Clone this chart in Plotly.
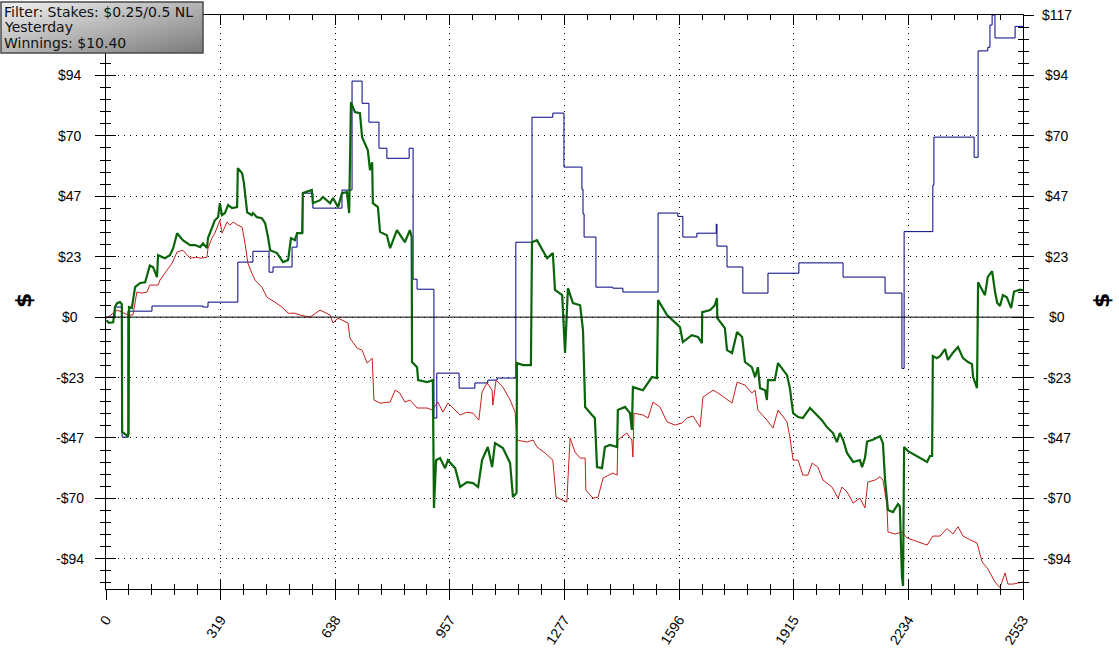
import base64
import plotly.graph_objects as go

# hand number, winnings ($)
green_pts = [(1,-1.2),(8,-2.2),(20,-2.0),(25,3.9),(31,5.4),(39,5.8),(44,5.0),(45,-44.5),(55,-45.5),(61,-46.5),(63,-45.0),(64,3.9),(72,3.5),(81,11.6),(95,13.2),(109,13.5),(122,20.0),(131,19.4),(142,15.5),(145,24.0),(164,22.8),(178,24.0),(187,26.7),(198,32.5),(214,29.8),(234,27.9),(248,27.9),(262,27.1),(270,28.6),(281,26.7),(284,30.6),(295,34.5),(303,37.5),(312,38.7),(317,44.1),(323,39.5),(331,40.3),(340,43.4),(351,42.2),(365,42.6),(367,57.7),(379,55.7),(384,51.9),(393,40.6),(406,39.5),(409,40.3),(420,38.7),(434,38.3),(443,36.4),(451,31.0),(457,25.9),(476,24.8),(493,21.3),(507,22.1),(515,30.6),(526,29.8),(532,32.5),(546,32.5),(548,48.0),(573,49.2),(576,44.1),(596,45.3),(604,46.5),(624,44.1),(632,46.1),(646,42.6),(657,48.0),(671,48.4),(677,40.3),(682,83.2),(693,79.4),(707,79.0),(713,69.7),(729,64.6),(735,56.9),(741,60.0),(743,44.1),(757,42.6),(763,33.0),(782,31.7),(791,26.7),(810,33.7),(824,31.0),(832,29.0),(846,33.7),(851,31.0),(852,-17.4),(866,-19.4),(869,-24.4),(894,-25.2),(910,-24.4),(913,-73.9),(919,-55.4),(930,-54.6),(944,-58.5),(952,-55.4),(972,-58.5),(986,-65.8),(1005,-63.9),(1022,-64.3),(1036,-65.8),(1047,-55.4),(1063,-50.3),(1075,-58.1),(1083,-48.8),(1105,-50.7),(1125,-56.5),(1133,-69.7),(1143,-68.1),(1144,-17.8),(1161,-18.6),(1183,-18.6),(1186,29.0),(1200,29.8),(1228,22.8),(1244,24.8),(1250,10.5),(1270,8.5),(1278,-13.9),(1286,11.2),(1300,5.4),(1320,4.6),(1328,-5.0),(1334,-34.8),(1353,-37.9),(1361,-39.1),(1367,-58.1),(1381,-58.5),(1389,-50.3),(1403,-49.5),(1423,-50.3),(1425,-36.0),(1445,-34.8),(1459,-37.2),(1464,-43.7),(1467,-27.1),(1495,-28.3),(1520,-23.2),(1534,-23.6),(1537,6.6),(1562,0.8),(1584,-1.9),(1598,-3.9),(1606,-9.7),(1631,-7.0),(1648,-7.7),(1659,-10.1),(1660,1.9),(1682,2.7),(1695,4.6),(1701,7.4),(1702,-0.4),(1723,-4.3),(1729,-12.8),(1743,-13.9),(1757,-5.8),(1771,-7.7),(1779,-17.4),(1798,-19.4),(1807,-23.2),(1815,-19.4),(1821,-27.5),(1835,-28.3),(1840,-32.1),(1843,-24.4),(1862,-24.4),(1871,-17.8),(1896,-22.5),(1904,-27.5),(1913,-37.2),(1927,-38.7),(1940,-39.1),(1960,-35.2),(1979,-37.9),(1993,-39.9),(2007,-42.6),(2024,-44.9),(2035,-48.4),(2043,-44.9),(2052,-47.6),(2063,-52.6),(2080,-56.1),(2099,-55.4),(2105,-58.1),(2113,-54.6),(2119,-48.2),(2135,-47.5),(2155,-46.1),(2163,-48.8),(2169,-63.1),(2177,-74.7),(2191,-75.5),(2205,-72.4),(2210,-73.2),(2216,-100.5),(2219,-104.1),(2222,-50.3),(2233,-51.9),(2247,-53.0),(2266,-54.6),(2286,-56.1),(2294,-53.8),(2300,-53.8),(2302,-15.1),(2313,-15.9),(2322,-15.1),(2336,-12.4),(2344,-16.6),(2358,-13.8),(2372,-11.6),(2386,-15.9),(2400,-17.4),(2411,-18.2),(2414,-23.1),(2425,-27.5),(2428,13.5),(2439,10.6),(2447,8.5),(2455,15.6),(2467,17.8),(2475,9.9),(2481,5.6),(2489,4.3),(2497,8.5),(2508,7.7),(2520,3.5),(2528,9.9),(2545,10.6),(2553,10.4)]

red_pts = [(1,-0.5),(31,2.7),(45,1.9),(61,0.8),(75,0.8),(86,9.7),(100,9.3),(114,9.7),(122,12.4),(145,12.4),(150,14.3),(173,19.0),(184,20.9),(198,25.2),(214,25.9),(234,22.8),(253,23.2),(262,22.8),(281,23.2),(284,26.7),(295,30.6),(303,32.5),(317,37.5),(323,32.5),(337,36.8),(345,35.6),(354,36.8),(367,35.6),(379,34.8),(387,28.6),(395,20.9),(406,17.0),(415,14.3),(434,11.6),(448,7.7),(470,5.8),(490,3.9),(507,1.5),(526,1.5),(540,0.8),(568,0.0),(596,2.7),(624,0.8),(632,-2.3),(646,-0.4),(674,-2.3),(679,-8.1),(699,-12.0),(713,-12.8),(727,-17.8),(741,-15.9),(746,-32.1),(763,-33.3),(791,-32.9),(805,-28.3),(818,-29.4),(832,-32.9),(846,-32.1),(866,-35.2),(894,-35.2),(908,-36.0),(924,-32.9),(938,-36.8),(952,-33.3),(966,-35.2),(986,-37.9),(1005,-36.8),(1022,-37.2),(1038,-39.9),(1047,-29.0),(1061,-25.5),(1075,-28.3),(1077,-34.1),(1086,-24.4),(1105,-27.1),(1125,-32.1),(1139,-36.8),(1144,-47.6),(1172,-48.4),(1189,-47.6),(1200,-50.3),(1222,-52.6),(1244,-55.4),(1253,-69.7),(1270,-70.8),(1283,-71.6),(1286,-63.1),(1292,-46.8),(1306,-52.3),(1320,-54.6),(1334,-54.6),(1336,-67.0),(1356,-70.1),(1370,-69.7),(1384,-62.3),(1411,-60.4),(1423,-61.2),(1425,-47.6),(1450,-44.9),(1464,-47.6),(1467,-54.2),(1470,-37.2),(1495,-37.9),(1509,-39.1),(1523,-32.9),(1542,-34.8),(1562,-40.6),(1584,-41.8),(1604,-41.0),(1617,-39.1),(1634,-38.3),(1654,-42.6),(1662,-31.0),(1690,-28.3),(1704,-29.4),(1729,-32.1),(1743,-33.3),(1757,-25.2),(1779,-26.3),(1798,-29.4),(1807,-28.3),(1815,-36.0),(1840,-39.9),(1857,-43.0),(1871,-36.0),(1896,-40.6),(1904,-46.5),(1913,-55.4),(1927,-55.4),(1940,-61.2),(1954,-61.2),(1966,-56.5),(1982,-58.1),(1996,-63.1),(2021,-65.8),(2038,-70.1),(2049,-65.8),(2063,-67.7),(2080,-72.0),(2099,-70.1),(2113,-73.9),(2121,-63.9),(2141,-63.1),(2155,-61.8),(2163,-63.1),(2174,-72.4),(2177,-83.2),(2197,-84.0),(2216,-83.2),(2230,-85.5),(2258,-86.9),(2286,-88.3),(2302,-84.8),(2322,-84.8),(2341,-81.9),(2358,-84.0),(2372,-81.2),(2386,-84.8),(2405,-86.2),(2425,-87.5),(2439,-94.8),(2455,-97.5),(2475,-102.6),(2489,-104.8),(2503,-99.1),(2511,-103.4),(2525,-103.4),(2550,-102.6),(2553,-102.6)]

# blue is a step line: value holds from this hand until the next one
blue_pts = [(0,0.0),(25,3.9),(45,-46.5),(61,2.3),(128,4.3),(270,3.9),(284,5.8),(367,21.3),(409,25.5),(454,17.4),(465,19.4),(518,27.1),(532,32.5),(548,48.0),(576,42.2),(657,49.2),(685,91.4),(713,82.8),(732,75.5),(760,65.4),(782,61.5),(844,65.4),(855,14.7),(866,10.8),(913,-39.1),(921,-21.7),(983,-27.5),(1027,-25.5),(1063,-24.4),(1089,-23.6),(1141,29.0),(1186,77.4),(1244,79.0),(1275,58.1),(1325,49.5),(1328,40.0),(1331,31.0),(1364,11.6),(1411,11.2),(1439,9.7),(1537,40.3),(1592,39.0),(1606,31.0),(1645,32.5),(1699,36.0),(1701,27.5),(1729,19.4),(1773,9.3),(1843,17.0),(1929,21.0),(2052,15.5),(2169,9.3),(2216,-19.9),(2222,33.1),(2302,51.1),(2305,69.7),(2417,61.9),(2428,103.1),(2455,104.5),(2461,113.1),(2467,117.0),(2475,108.1),(2531,112.6),(2553,112.6)]

x_labels = ["0", "319", "638", "957", "1277", "1596", "1915", "2234", "2553"]
y_labels = ["$117", "$94", "$70", "$47", "$23", "$0", "-$23", "-$47", "-$70", "-$94"]
info_lines = ["Filter: Stakes: $0.25/0.5 NL", "Yesterday", "Winnings: $10.40"]

n_hands = 2553
x_step = n_hands / 8
y_step = 117 / 5
x_ticks = [i * x_step for i in range(len(x_labels))]
y_ticks = [117 - i * y_step for i in range(len(y_labels))]
y_range = [-105.3, 117]

fig = go.Figure()
for pts, color, width, shape in [(blue_pts, "#000080", 1, "hv"),
                                 (red_pts, "#c81e1e", 1, "linear"),
                                 (green_pts, "#0a640a", 2.2, "linear")]:
    hx, hy = zip(*pts)
    fig.add_trace(go.Scatter(x=hx, y=hy, mode="lines", line=dict(color=color, width=width, shape=shape),
                             showlegend=False, hoverinfo="skip"))

# empty traces so the extra tick-only axes get drawn
for xa, ya in [("x", "y2"), ("x", "y3"), ("x", "y4"), ("x2", "y"), ("x3", "y")]:
    fig.add_trace(go.Scatter(x=[0], y=[0], xaxis=xa, yaxis=ya, mode="markers",
                             marker=dict(opacity=0), showlegend=False, hoverinfo="skip"))

tick_font = dict(family="Liberation Sans, Arial", size=14, color="black")
no_grid = dict(showgrid=False, gridcolor="rgba(0,0,0,0)", gridwidth=0)
xminor = dict(dtick=x_step / 5, tick0=0, ticklen=5, tickcolor="black", **no_grid)
yminor = dict(dtick=y_step / 5, tick0=0, ticklen=5, tickcolor="black", **no_grid)

xcommon = dict(range=[0, n_hands], tickmode="array", tickvals=x_ticks, ticklen=10,
               tickcolor="black", zeroline=False, automargin=False)
ycommon = dict(range=y_range, tickmode="array", tickvals=y_ticks, ticklen=10,
               tickcolor="black", zeroline=False, automargin=False, showticklabels=False)

fig.update_layout(
    width=1119, height=649, autosize=False,
    margin=dict(l=106, r=96, t=15, b=60),
    paper_bgcolor="white", plot_bgcolor="white",
    showlegend=False,
    xaxis=dict(**xcommon, ticks="outside", ticktext=x_labels, tickangle=-57,
               tickfont=dict(family="Liberation Sans, Arial", size=14, color="black"),
               ticklabelstandoff=6,
               showline=True, linecolor="black", linewidth=1,
               showgrid=True, gridcolor="black", gridwidth=1, griddash="1px,5px",
               minor=dict(**xminor, ticks="outside")),
    xaxis2=dict(**xcommon, overlaying="x", side="bottom", anchor="y", ticks="inside",
                showticklabels=False, showline=False, **no_grid,
                minor=dict(**xminor, ticks="inside")),
    xaxis3=dict(**xcommon, overlaying="x", side="top", anchor="y", ticks="inside",
                showticklabels=False, showline=True, linecolor="black", linewidth=1, **no_grid,
                minor=dict(**xminor, ticks="inside")),
    yaxis=dict(**ycommon, ticks="outside",
               showline=True, linecolor="black", linewidth=1,
               showgrid=True, gridcolor="black", gridwidth=1, griddash="1px,5px",
               minor=dict(**yminor, ticks="outside")),
    yaxis2=dict(**ycommon, overlaying="y", side="right", anchor="x", ticks="outside",
                showline=True, linecolor="black", linewidth=1, **no_grid,
                minor=dict(**yminor, ticks="outside")),
    yaxis3=dict(**ycommon, overlaying="y", side="left", anchor="x", ticks="inside",
                showline=False, **no_grid,
                minor=dict(**yminor, ticks="inside")),
    yaxis4=dict(**ycommon, overlaying="y", side="right", anchor="x", ticks="inside",
                showline=False, **no_grid,
                minor=dict(**yminor, ticks="inside")),
)

# zero line drawn solid across the plot
fig.add_hline(y=0, line=dict(color="black", width=1), layer="above")

pw, ph = 917, 574  # plot area size in pixels

# y tick labels, centred in the side margins like the original
# (the top-left one sits under the info box in the original, so it is not shown)
for val, lab in zip(y_ticks, y_labels):
    sides = [(1057 - 106) / pw] if val == y_ticks[0] else [(70 - 106) / pw, (1057 - 106) / pw]
    for xp in sides:
        fig.add_annotation(x=xp, y=val, xref="paper", yref="y", text=lab, showarrow=False,
                           xanchor="center", yanchor="middle", font=tick_font)

# "$" axis titles on both sides
for xp in [(23 - 106) / pw, (1101 - 106) / pw]:
    fig.add_annotation(x=xp, y=(589 - 301) / ph, xref="paper", yref="paper", text="<b>$</b>",
                       showarrow=False, textangle=-90, xanchor="center", yanchor="middle",
                       font=dict(family="DejaVu Sans", size=22, color="black"))

# grey info box in the top left corner
bx0, bx1 = (1 - 106) / pw, (203 - 106) / pw
by0, by1 = (589 - 53) / ph, (589 - 2) / ph
svg = ('<svg xmlns="http://www.w3.org/2000/svg" width="202" height="51">'
       '<defs><linearGradient id="g" x1="0" y1="0" x2="1" y2="1">'
       '<stop offset="0" stop-color="#f2f2f2"/><stop offset="1" stop-color="#7a7a7a"/>'
       '</linearGradient></defs><rect width="202" height="51" fill="url(#g)"/></svg>')
fig.add_layout_image(source="data:image/svg+xml;base64," + base64.b64encode(svg.encode()).decode(),
                     xref="paper", yref="paper", x=bx0, y=by1, sizex=bx1 - bx0, sizey=by1 - by0,
                     xanchor="left", yanchor="top", sizing="stretch", layer="above")
fig.add_shape(type="rect", xref="paper", yref="paper", x0=bx0, x1=bx1, y0=by0, y1=by1,
              line=dict(color="#4a4a4a", width=1.5), layer="above")
for i, line in enumerate(info_lines):
    fig.add_annotation(x=(3 - 106) / pw, y=(589 - (12 + i * 15.5)) / ph, xref="paper", yref="paper",
                       text=line, showarrow=False, xanchor="left", yanchor="middle", borderpad=0,
                       font=dict(family="DejaVu Sans", size=14, color="#111111"))

fig.write_html("out.html", config={"displayModeBar": False},
               post_script="document.body.style.margin='0';")
